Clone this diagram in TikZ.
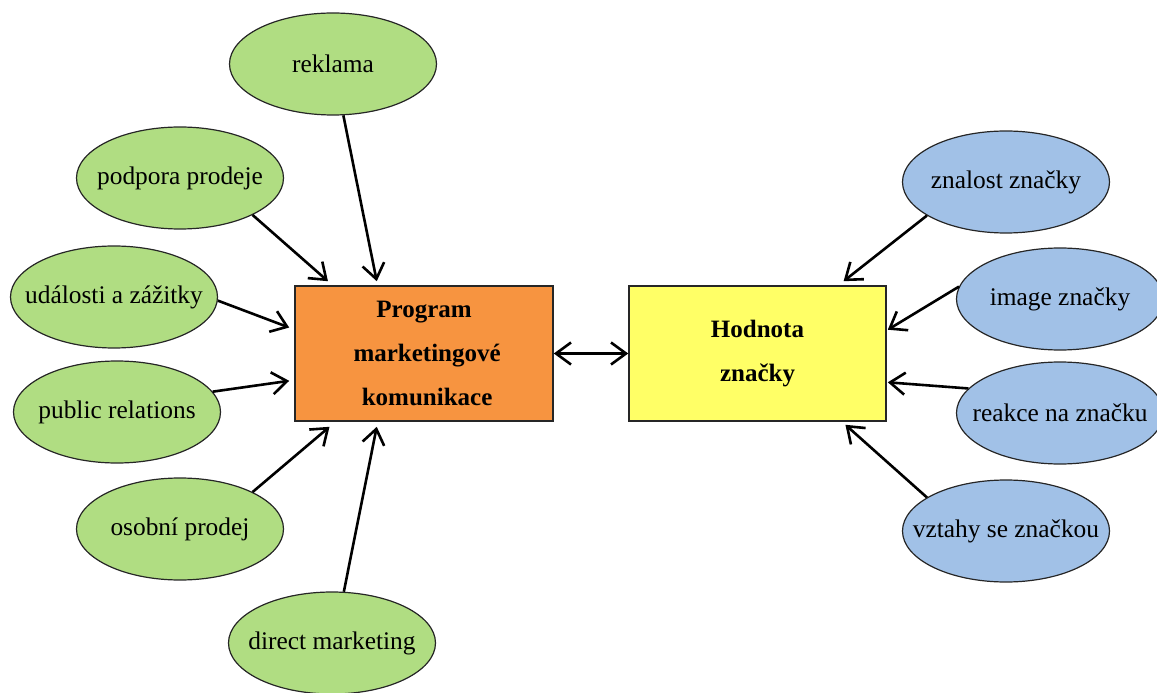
\documentclass[tikz,border=0pt]{standalone}
\usepackage{fontspec}
\setmainfont{Liberation Serif}
\usetikzlibrary{arrows.meta,shapes.geometric,calc}

\definecolor{leafgreen}{RGB}{176,221,130}
\definecolor{skyblue}{RGB}{161,193,231}
\definecolor{hubblue}{RGB}{247,148,64}
\definecolor{hubyellow}{RGB}{255,255,102}

% zero-width box so the label does not widen its ellipse
\newcommand{\zw}[1]{\hbox to 0pt{\hss#1\hss}}

\begin{document}
\begin{tikzpicture}[x=0.5pt,y=0.5pt,
  bubble/.style={ellipse, draw=black!85, line width=0.6pt, inner sep=0pt,
    minimum width=103.5pt, minimum height=51pt,
    font=\fontsize{12.7}{15}\selectfont},
  src/.style={bubble, fill=leafgreen},
  dim/.style={bubble, fill=skyblue},
  hub/.style={rectangle, draw=black!85, line width=0.8pt, inner sep=0pt,
    minimum height=67.5pt, align=center,
    font=\fontsize{12.5}{22}\selectfont\bfseries},
  barb/.tip={Straight Barb[length=7.5pt,width=11pt,line width=1.3pt]},
  arr/.style={line width=1.3pt, -barb},
  darr/.style={line width=1.3pt, barb-barb},
]
\useasboundingbox (0,0) rectangle (1157,692);

% central boxes
\node[hub, fill=hubblue, minimum width=129pt] (prog) at (424,338.5)
  {Program\\ \ marketingové\\ \ komunikace};
\node[hub, fill=hubyellow, minimum width=128.5pt] (hod) at (757.5,338.5)
  {Hodnota\\ značky};

% communication tools
\node[src] (reklama)  at (333,628) {\zw{reklama}};
\node[src] (podpora)  at (180,514) {\zw{podpora prodeje}};
\node[src] (udalosti) at (114,395) {\zw{události a zážitky}};
\node[src] (pr)       at (117,280) {\zw{public relations}};
\node[src] (osobni)   at (180,163) {\zw{osobní prodej}};
\node[src] (direct)   at (332,49)  {\zw{direct marketing}};

% brand value dimensions
\node[dim] (znalost) at (1006,510) {\zw{znalost značky}};
\node[dim] (image)   at (1060,393) {\zw{image značky}};
\node[dim] (reakce)  at (1060,279) {\zw{reakce na značku}};
\node[dim] (vztahy)  at (1006,161) {\zw{vztahy se značkou}};

% tools -> programme
\draw[arr] (reklama) -- ($(prog.north west)!0.318!(prog.north east)+(0,4)$);
\draw[arr] (podpora.-27.5) -- ($(prog.north west)!0.13!(prog.north east)+(0,4)$);
\draw[arr] (udalosti.-2) -- ($(prog.north west)!0.31!(prog.south west)+(-5,0)$);
\draw[arr] (pr.12.7) -- ($(prog.north west)!0.70!(prog.south west)+(-5,0)$);
\draw[arr] (osobni.27) -- ($(prog.south west)!0.136!(prog.south east)+(0,-5)$);
\draw[arr] (direct.77.6) -- ($(prog.south west)!0.318!(prog.south east)+(0,-5)$);

% programme <-> brand value
\draw[darr] (prog.east) -- (hod.west);

% dimensions -> brand value
\draw[arr] (znalost.-157) -- ($(hod.north west)!0.833!(hod.north east)+(0,4)$);
\draw[arr] (image.173.8) -- ($(hod.north east)!0.326!(hod.south east)+(1,0)$);
\draw[arr] (reakce.165.7) -- ($(hod.north east)!0.711!(hod.south east)+(1,0)$);
\draw[arr] (vztahy.157.2) -- ($(hod.south west)!0.84!(hod.south east)+(0,-3)$);
\end{tikzpicture}
\end{document}
